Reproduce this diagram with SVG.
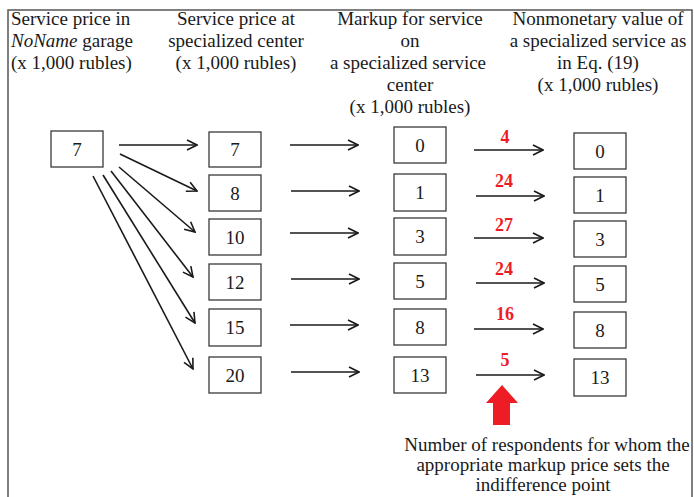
<svg xmlns="http://www.w3.org/2000/svg" width="694" height="497" viewBox="0 0 694 497">
  <defs>
    <marker id="open-arrow" viewBox="0 0 12 12" refX="11" refY="6" markerWidth="12" markerHeight="12" markerUnits="userSpaceOnUse" orient="auto">
      <path d="M1,1 L11,6 L1,11" fill="none" stroke="#1a1a1a" stroke-width="1.6"/>
    </marker>
  </defs>
  <style>
    text { font-family: "Liberation Serif", "Times New Roman", serif; fill: #1a1a1a; }
    .head { font-size: 19px; }
    .num { font-size: 19px; text-anchor: middle; }
    .count { font-size: 18px; font-weight: bold; fill: #ee1c25; text-anchor: middle; }
    .note { font-size: 19px; text-anchor: middle; }
    .box { fill: #ffffff; stroke: #3a3a3a; stroke-width: 1.3; }
    .arrow { stroke: #1a1a1a; stroke-width: 1.6; fill: none; marker-end: url(#open-arrow); }
  </style>

  <rect width="694" height="497" fill="#ffffff"/>
  <!-- frame: top, left and right edges -->
  <path d="M8,497 L8,10 L692,10 L692,497" fill="none" stroke="#555555" stroke-width="1.5"/>

  <!-- column headings -->
  <g id="heading-garage">
    <text class="head" x="11" y="25">Service price in</text>
    <text class="head" x="11" y="47"><tspan font-style="italic">NoName</tspan> garage</text>
    <text class="head" x="11" y="69">(x 1,000 rubles)</text>
  </g>
  <g id="heading-center" text-anchor="middle">
    <text class="head" x="236" y="25">Service price at</text>
    <text class="head" x="236" y="47">specialized center</text>
    <text class="head" x="236" y="69">(x 1,000 rubles)</text>
  </g>
  <g id="heading-markup" text-anchor="middle">
    <text class="head" x="410" y="25">Markup for service</text>
    <text class="head" x="410" y="47">on</text>
    <text class="head" x="408" y="69">a specialized service</text>
    <text class="head" x="410" y="91">center</text>
    <text class="head" x="410" y="113">(x 1,000 rubles)</text>
  </g>
  <g id="heading-value" text-anchor="middle">
    <text class="head" x="598" y="25">Nonmonetary value of</text>
    <text class="head" x="598" y="47">a specialized service as</text>
    <text class="head" x="598" y="69">in Eq. (19)</text>
    <text class="head" x="598" y="91">(x 1,000 rubles)</text>
  </g>

  <!-- connectors -->
  <g id="connectors">
    <line class="arrow" x1="119" y1="145" x2="197" y2="145"/>
    <line class="arrow" x1="120" y1="154" x2="197" y2="191"/>
    <line class="arrow" x1="119" y1="167" x2="195" y2="232"/>
    <line class="arrow" x1="111" y1="171" x2="193" y2="277"/>
    <line class="arrow" x1="103" y1="175" x2="195" y2="323"/>
    <line class="arrow" x1="93" y1="176" x2="193" y2="369"/>

    <line class="arrow" x1="290" y1="145" x2="358" y2="145"/>
    <line class="arrow" x1="291" y1="191" x2="359" y2="191"/>
    <line class="arrow" x1="290" y1="233" x2="358" y2="233"/>
    <line class="arrow" x1="291" y1="279" x2="359" y2="279"/>
    <line class="arrow" x1="290" y1="325" x2="358" y2="325"/>
    <line class="arrow" x1="291" y1="372" x2="359" y2="372"/>

    <line class="arrow" x1="474" y1="150" x2="543" y2="150"/>
    <line class="arrow" x1="476" y1="196" x2="544" y2="196"/>
    <line class="arrow" x1="474" y1="238" x2="543" y2="238"/>
    <line class="arrow" x1="476" y1="283" x2="544" y2="283"/>
    <line class="arrow" x1="474" y1="329" x2="543" y2="329"/>
    <line class="arrow" x1="476" y1="375" x2="544" y2="375"/>
  </g>

  <!-- respondent counts -->
  <g id="counts">
    <text class="count" x="505" y="143">4</text>
    <text class="count" x="504" y="187">24</text>
    <text class="count" x="504" y="231">27</text>
    <text class="count" x="504" y="275">24</text>
    <text class="count" x="505" y="320">16</text>
    <text class="count" x="505" y="366">5</text>
  </g>

  <!-- garage price -->
  <g id="garage-7">
    <rect class="box" x="51" y="131" width="52" height="36"/>
    <text class="num" x="77" y="156">7</text>
  </g>

  <!-- specialized center prices -->
  <g id="center-7"><rect class="box" x="209" y="132" width="52" height="35"/><text class="num" x="235" y="156">7</text></g>
  <g id="center-8"><rect class="box" x="209" y="175" width="52" height="36"/><text class="num" x="235" y="200">8</text></g>
  <g id="center-10"><rect class="box" x="209" y="219" width="52" height="36"/><text class="num" x="235" y="244">10</text></g>
  <g id="center-12"><rect class="box" x="209" y="264" width="52" height="36"/><text class="num" x="235" y="289">12</text></g>
  <g id="center-15"><rect class="box" x="209" y="309" width="52" height="37"/><text class="num" x="235" y="334">15</text></g>
  <g id="center-20"><rect class="box" x="209" y="357" width="52" height="36"/><text class="num" x="235" y="382">20</text></g>

  <!-- markups -->
  <g id="markup-0"><rect class="box" x="394" y="127" width="52" height="36"/><text class="num" x="420" y="152">0</text></g>
  <g id="markup-1"><rect class="box" x="394" y="174" width="52" height="37"/><text class="num" x="420" y="199">1</text></g>
  <g id="markup-3"><rect class="box" x="394" y="218" width="52" height="37"/><text class="num" x="420" y="243">3</text></g>
  <g id="markup-5"><rect class="box" x="394" y="263" width="52" height="36"/><text class="num" x="420" y="288">5</text></g>
  <g id="markup-8"><rect class="box" x="394" y="309" width="52" height="36"/><text class="num" x="420" y="334">8</text></g>
  <g id="markup-13"><rect class="box" x="394" y="357" width="52" height="36"/><text class="num" x="420" y="382">13</text></g>

  <!-- nonmonetary values -->
  <g id="value-0"><rect class="box" x="574" y="133" width="52" height="36"/><text class="num" x="600" y="158">0</text></g>
  <g id="value-1"><rect class="box" x="574" y="177" width="52" height="36"/><text class="num" x="600" y="202">1</text></g>
  <g id="value-3"><rect class="box" x="574" y="221" width="52" height="36"/><text class="num" x="600" y="246">3</text></g>
  <g id="value-5"><rect class="box" x="574" y="266" width="52" height="36"/><text class="num" x="600" y="291">5</text></g>
  <g id="value-8"><rect class="box" x="574" y="312" width="52" height="36"/><text class="num" x="600" y="337">8</text></g>
  <g id="value-13"><rect class="box" x="574" y="359" width="52" height="37"/><text class="num" x="600" y="384">13</text></g>

  <!-- pointer to the counts and its note -->
  <g id="note">
    <polygon points="502,385 518,403 510,403 510,425 493,425 493,403 486,403" fill="#ee1c25"/>
    <text class="note" x="547" y="451">Number of respondents for whom the</text>
    <text class="note" x="543" y="471">appropriate markup price sets the</text>
    <text class="note" x="543" y="491">indifference point</text>
  </g>
</svg>
